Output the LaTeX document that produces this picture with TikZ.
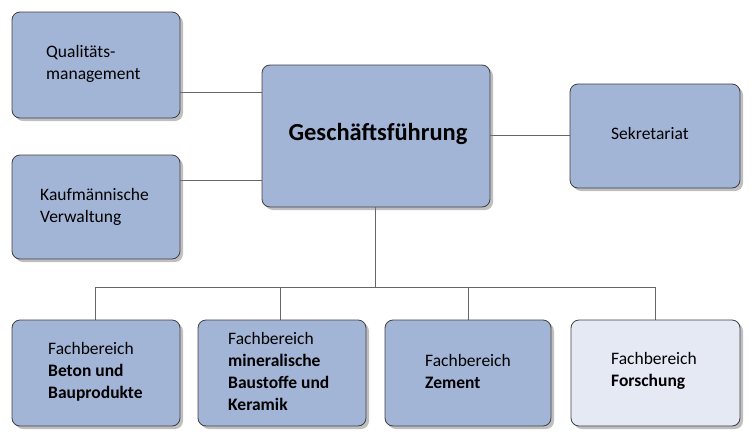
\documentclass[tikz,border=0pt]{standalone}
\usepackage{fontspec}
\setmainfont{Carlito}
\usetikzlibrary{shadows}
\begin{document}
\begin{tikzpicture}[x=1pt,y=-1pt,
  box/.style={draw=black!75,line width=0.8pt,rounded corners=8pt,fill=boxblue,drop shadow={shadow xshift=3pt,shadow yshift=-3pt,opacity=0.5}},
  lbl/.style={anchor=west,align=left,font=\fontsize{17.5}{22}\selectfont,inner sep=0pt},
  conn/.style={draw=black!60,line width=0.7pt}]
\definecolor{boxblue}{HTML}{A3B5D6}
\definecolor{boxlight}{HTML}{E4E9F3}
\useasboundingbox (0,0) rectangle (756,445);
\draw[conn] (180,92) -- (262,92);
\draw[conn] (180,180) -- (262,180);
\draw[conn] (490,135) -- (570,135);
\draw[conn] (375,207) -- (375,287) coordinate (hub);
\draw[conn] (95,320) -- (95,287) -- (655,287) -- (655,320);
\draw[conn] (280,287) -- (280,320);
\draw[conn] (468,287) -- (468,320);
\path[box] (12,12) rectangle (180,118);
\path[box] (12,155) rectangle (180,259);
\path[box] (262,65) rectangle (490,207);
\path[box] (570,84) rectangle (740,188);
\path[box] (12,320) rectangle (180,426);
\path[box] (198,320) rectangle (366,426);
\path[box] (385,320) rectangle (551,426);
\path[box,fill=boxlight] (571,320) rectangle (740,426);
\node[lbl] (q) at (46,64) {Qualitäts-\\management};
\node[lbl] (k) at (40,207) {Kaufmännische\\Verwaltung};
\node[anchor=center,font=\bfseries\fontsize{24.5}{29}\selectfont] (g) at (378,134) {Geschäftsführung};
\node[lbl] (s) at (611,133) {Sekretariat};
\node[lbl] (f1) at (48,372) {Fachbereich\\\textbf{Beton und}\\\textbf{Bauprodukte}};
\node[lbl] (f2) at (228,371) {Fachbereich\\\textbf{mineralische}\\\textbf{Baustoffe und}\\\textbf{Keramik}};
\node[lbl] (f3) at (425,371) {Fachbereich\\\textbf{Zement}};
\node[lbl] (f4) at (611,371) {Fachbereich\\\textbf{Forschung}};
\end{tikzpicture}
\end{document}
